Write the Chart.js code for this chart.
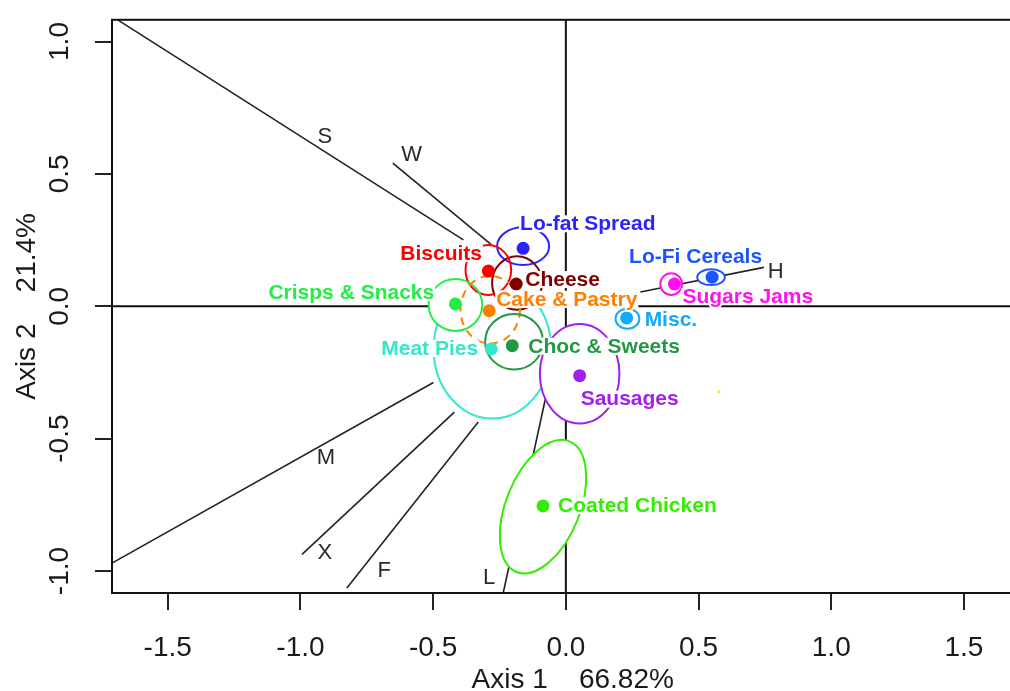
<!DOCTYPE html>
<html>
<head>
<meta charset="utf-8">
<script src="https://cdn.jsdelivr.net/npm/chart.js@4.4.1/dist/chart.umd.min.js"></script>
<style>
  html, body { margin: 0; padding: 0; background: #fff; overflow: hidden; }
  #wrap { width: 1040px; height: 691px; }
</style>
</head>
<body>
<div id="wrap"><canvas id="chart" width="1040" height="691"></canvas></div>
<script>
// group centroids (axis 1, axis 2)
const groups = ['Lo-fat Spread', 'Lo-Fi Cereals', 'Sugars Jams', 'Misc.', 'Cheese', 'Biscuits',
    'Crisps & Snacks', 'Cake & Pastry', 'Choc & Sweets', 'Meat Pies', 'Sausages', 'Coated Chicken'];
const groupX = [-0.161, 0.551, 0.409, 0.229, -0.187, -0.292, -0.416, -0.289, -0.202, -0.281, 0.052, -0.086];
const groupY = [0.219, 0.110, 0.084, -0.044, 0.084, 0.133, 0.009, -0.017, -0.149, -0.161, -0.262, -0.754];
const groupColors = ['#2a22ff', '#1a55ff', '#ff11ee', '#11aaff', '#800000', '#ff0000',
    '#22ee44', '#ff8000', '#229944', '#33e6cc', '#a020f0', '#33ee00'];

// confidence ellipses round each group
const ellipseX = [-0.161, 0.547, 0.397, 0.232, -0.184, -0.292, -0.416, -0.285, -0.195, -0.277, 0.052, -0.086];
const ellipseY = [0.227, 0.110, 0.084, -0.047, 0.088, 0.137, 0.005, -0.013, -0.134, -0.161, -0.255, -0.757];
const ellipseRx = [0.098, 0.052, 0.041, 0.045, 0.094, 0.086, 0.101, 0.112, 0.109, 0.221, 0.150, 0.139];
const ellipseRy = [0.071, 0.030, 0.041, 0.038, 0.101, 0.094, 0.098, 0.128, 0.105, 0.263, 0.188, 0.266];
const ellipseAngle = [0, 0, 0, 0, 0, 0, 0, 0, 0, 0, 0, 22];

// one stray point without a label
const strayX = [0.577];
const strayY = [-0.323];

// variable axes
const varNames = ['S', 'W', 'M', 'X', 'F', 'L', 'H'];
const varFromX = [-1.687, -0.652, -1.71, -0.994, -0.825, -0.236, 0.746];
const varFromY = [1.081, 0.541, -0.970, -0.937, -1.064, -1.083, 0.147];
const varToX = [-0.386, -0.281, -0.499, -0.420, -0.330, -0.075, 0.281];
const varToY = [0.251, 0.233, -0.288, -0.400, -0.437, -0.340, 0.054];
const varLabelX = [-0.908, -0.581, -0.904, -0.908, -0.684, -0.289, 0.791];
const varLabelY = [0.640, 0.572, -0.574, -0.933, -1.001, -1.027, 0.129];

const xTicks = [-1.5, -1.0, -0.5, 0.0, 0.5, 1.0, 1.5];
const yTicks = [-1.0, -0.5, 0.0, 0.5, 1.0];

// label placement relative to the point, in pixels (left edge, middle)
const labelOffsets = [[-3, -24], [-83, -20], [8, 13], [18, 2], [9, -4], [-88, -17],
    [-187, -11], [7, -11], [16, 1], [-110, 0], [1, 24], [15, 0]];

const FONT = '"Liberation Sans", Arial, sans-serif';

const datasets = [];
datasets.push({
    label: 'groups',
    data: groupX.map((x, i) => ({x: x, y: groupY[i]})),
    pointBackgroundColor: groupColors,
    pointBorderWidth: 0,
    pointRadius: 6.5,
    showLine: false,
    order: 0
});
datasets.push({
    label: 'stray',
    data: strayX.map((x, i) => ({x: x, y: strayY[i]})),
    pointBackgroundColor: '#eeee00',
    pointBorderWidth: 0,
    pointRadius: 1.5,
    showLine: false,
    order: 0
});
datasets.push({
    label: 'zeroX',
    data: [{x: -1.71, y: 0}, {x: 1.762, y: 0}],
    showLine: true, borderColor: '#111', borderWidth: 2, pointRadius: 0, order: 2
});
datasets.push({
    label: 'zeroY',
    data: [{x: 0, y: -1.083}, {x: 0, y: 1.082}],
    showLine: true, borderColor: '#111', borderWidth: 2, pointRadius: 0, order: 2
});
varNames.forEach((n, i) => {
    datasets.push({
        label: n,
        data: [{x: varFromX[i], y: varFromY[i]}, {x: varToX[i], y: varToY[i]}],
        showLine: true, borderColor: '#222', borderWidth: 1.6, pointRadius: 0, order: 2
    });
});

function ellipsePath(ctx, xs, ys, i) {
    const cx = xs.getPixelForValue(ellipseX[i]);
    const cy = ys.getPixelForValue(ellipseY[i]);
    const rx = Math.abs(xs.getPixelForValue(ellipseX[i] + ellipseRx[i]) - cx);
    const ry = Math.abs(ys.getPixelForValue(ellipseY[i] + ellipseRy[i]) - cy);
    ctx.beginPath();
    ctx.ellipse(cx, cy, rx, ry, ellipseAngle[i] * Math.PI / 180, 0, 2 * Math.PI);
}

function strokeEllipse(ctx, xs, ys, i) {
    ellipsePath(ctx, xs, ys, i);
    ctx.strokeStyle = groupColors[i];
    ctx.lineWidth = 2;
    ctx.setLineDash(groups[i] === 'Cake & Pastry' ? [8, 6] : []);
    ctx.stroke();
}

const ellipsePlugin = {
    id: 'ellipses',
    beforeDatasetDraw(chart, args) {
        if (chart.data.datasets[args.index].label !== 'groups') return;
        const ctx = chart.ctx, xs = chart.scales.x, ys = chart.scales.y;
        const back = groups.indexOf('Meat Pies');
        ctx.save();
        // the big meat pies ellipse sits underneath the others
        ellipsePath(ctx, xs, ys, back);
        ctx.fillStyle = '#fff';
        ctx.fill();
        strokeEllipse(ctx, xs, ys, back);
        groups.forEach((g, i) => {
            if (i === back) return;
            ellipsePath(ctx, xs, ys, i);
            ctx.fillStyle = '#fff';
            ctx.fill();
        });
        groups.forEach((g, i) => {
            if (i !== back) strokeEllipse(ctx, xs, ys, i);
        });
        ctx.restore();
    }
};

const labelPlugin = {
    id: 'labels',
    afterDatasetsDraw(chart) {
        const ctx = chart.ctx, xs = chart.scales.x, ys = chart.scales.y;
        ctx.save();
        ctx.textBaseline = 'middle';
        ctx.lineJoin = 'round';
        // group labels on a white backing
        ctx.font = 'bold 21px ' + FONT;
        ctx.textAlign = 'left';
        groups.forEach((g, i) => {
            const px = xs.getPixelForValue(groupX[i]) + labelOffsets[i][0];
            const py = ys.getPixelForValue(groupY[i]) + labelOffsets[i][1];
            const w = ctx.measureText(g).width;
            ctx.fillStyle = '#fff';
            ctx.fillRect(px - 1, py - 9, w + 2, 17);
            ctx.strokeStyle = '#fff';
            ctx.lineWidth = 4;
            ctx.strokeText(g, px, py);
            ctx.fillStyle = groupColors[i];
            ctx.fillText(g, px, py);
        });
        // variable labels
        ctx.font = '22px ' + FONT;
        ctx.textAlign = 'center';
        ctx.fillStyle = '#2a2a2a';
        varNames.forEach((n, i) => {
            ctx.fillText(n, xs.getPixelForValue(varLabelX[i]), ys.getPixelForValue(varLabelY[i]));
        });
        ctx.restore();
    },
    afterDraw(chart) {
        const ctx = chart.ctx, ys = chart.scales.y, a = chart.chartArea;
        ctx.save();
        // frame
        ctx.strokeStyle = '#111';
        ctx.lineWidth = 2;
        ctx.strokeRect(a.left, a.top, a.right - a.left, a.bottom - a.top);
        // rotated y tick labels
        ctx.font = '28px ' + FONT;
        ctx.fillStyle = '#1a1a1a';
        ctx.textAlign = 'center';
        ctx.textBaseline = 'middle';
        yTicks.forEach(v => {
            ctx.save();
            ctx.translate(60, ys.getPixelForValue(v));
            ctx.rotate(-Math.PI / 2);
            ctx.fillText(v.toFixed(1), 0, 0);
            ctx.restore();
        });
        ctx.restore();
    }
};

new Chart(document.getElementById('chart'), {
    type: 'scatter',
    data: {datasets: datasets},
    options: {
        responsive: false,
        animation: false,
        events: [],
        layout: {padding: {top: 16, left: 0, right: 2, bottom: 0}},
        plugins: {legend: {display: false}, tooltip: {enabled: false}},
        scales: {
            x: {
                type: 'linear', min: -1.71, max: 1.762,
                afterBuildTicks: s => { s.ticks = xTicks.map(v => ({value: v})); },
                afterFit: s => { s.height = 98; },
                grid: {drawOnChartArea: false, drawTicks: true, tickLength: 17, color: '#222', lineWidth: 2},
                border: {display: false},
                ticks: {
                    padding: 21, color: '#1a1a1a', maxRotation: 0, autoSkip: false,
                    font: {family: FONT, size: 28},
                    callback: v => v.toFixed(1)
                },
                title: {
                    display: true, text: 'Axis 1    66.82%', color: '#1a1a1a',
                    font: {family: FONT, size: 28, lineHeight: 0.8},
                    padding: {top: 0, bottom: 0}
                }
            },
            y: {
                type: 'linear', min: -1.083, max: 1.082,
                afterBuildTicks: s => { s.ticks = yTicks.map(v => ({value: v})); },
                afterFit: s => { s.width = 112; },
                grid: {drawOnChartArea: false, drawTicks: true, tickLength: 17, color: '#222', lineWidth: 2},
                border: {display: false},
                ticks: {color: 'rgba(0,0,0,0)', font: {family: FONT, size: 28}, callback: v => v.toFixed(1)},
                title: {
                    display: true, text: 'Axis 2    21.4%', color: '#1a1a1a',
                    font: {family: FONT, size: 28},
                    padding: {top: 10, bottom: 0}
                }
            }
        }
    },
    plugins: [ellipsePlugin, labelPlugin]
});
</script>
</body>
</html>
